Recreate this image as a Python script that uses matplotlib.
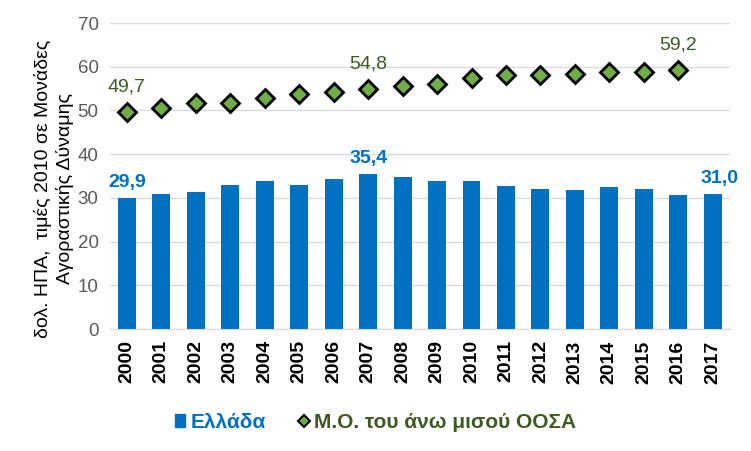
import matplotlib
matplotlib.use("Agg")
import matplotlib.pyplot as plt
import numpy as np
from matplotlib.lines import Line2D
from matplotlib.patches import Patch

years = [str(y) for y in range(2000, 2018)]
greece = [29.9, 31.0, 31.4, 33.0, 33.9, 33.0, 34.4, 35.4, 34.9, 33.9, 33.9, 32.8, 32.1, 31.9, 32.6, 32.1, 30.7, 31.0]
oecd_top = [49.7, 50.6, 51.8, 51.8, 52.9, 53.8, 54.3, 54.8, 55.7, 56.1, 57.5, 58.0, 58.2, 58.4, 58.9, 58.9, 59.2]
greece_labels = {0: "29,9", 7: "35,4", 17: "31,0"}
oecd_labels = {0: "49,7", 7: "54,8", 16: "59,2"}
yticks = [0, 10, 20, 30, 40, 50, 60, 70]

plt.rcParams['font.family'] = ['Liberation Sans', 'DejaVu Sans']

BLUE = "#0070C0"
GREEN = "#70AD47"
DKGREEN = "#3E5A22"

fig = plt.figure(figsize=(7.51, 4.51), dpi=100)
ax = fig.add_axes([0.146, 0.270, 0.826, 0.679])

x = np.arange(len(years))
ax.bar(x, greece, width=0.52, color=BLUE, zorder=2)
xo = np.arange(len(oecd_top))
ax.plot(xo, oecd_top, linestyle='none', marker='D', markersize=9, markerfacecolor=GREEN,
        markeredgecolor='black', markeredgewidth=2, zorder=3)

for i, t in greece_labels.items():
    dx = 5 if i == len(years) - 1 else 0
    ax.annotate(t, (x[i], greece[i]), xytext=(dx, 5), textcoords='offset points',
                ha='center', va='bottom', color=BLUE, fontsize=14, fontweight='bold')
for i, t in oecd_labels.items():
    ax.annotate(t, (xo[i], oecd_top[i]), xytext=(0, 12), textcoords='offset points',
                ha='center', va='bottom', color=DKGREEN, fontsize=14)

ax.set_xlim(-0.5, len(years) - 0.5)
ax.set_ylim(0, 70)
ax.set_yticks(yticks)
ax.set_yticklabels([str(v) for v in yticks], color='#595959', fontsize=13.5)
ax.set_xticks(x)
ax.set_xticklabels(years, rotation=90, fontsize=14, fontweight='bold', color='black')
ax.tick_params(axis='both', length=0, pad=8)
ax.grid(axis='y', color='#D9D9D9', linewidth=1, zorder=0)
for s in ['top', 'right', 'left']:
    ax.spines[s].set_visible(False)
ax.spines['bottom'].set_color('#D9D9D9')

fig.text(54 / 751, 1 - 189 / 451, "δολ. ΗΠΑ,  τιμές 2010 σε Μονάδες\nΑγοραστικής Δύναμης",
         rotation=90, ha='center', va='center', multialignment='center',
         fontsize=14, color='black', linespacing=1.3)

handles = [Patch(facecolor=BLUE, edgecolor=BLUE),
           Line2D([], [], linestyle='none', marker='D', markersize=6, markerfacecolor=GREEN,
                  markeredgecolor='black', markeredgewidth=1.5)]
leg = fig.legend(handles, ["Ελλάδα", "Μ.Ο. του άνω μισού ΟΟΣΑ"], loc='center',
                 bbox_to_anchor=(0.5, 0.064), ncol=2, frameon=False,
                 handlelength=0.5, handleheight=0.6, handletextpad=0.25, columnspacing=1.6,
                 prop={'weight': 'bold', 'size': 15})
for txt, c in zip(leg.get_texts(), [BLUE, DKGREEN]):
    txt.set_color(c)

fig.savefig("out.png", dpi=100)
